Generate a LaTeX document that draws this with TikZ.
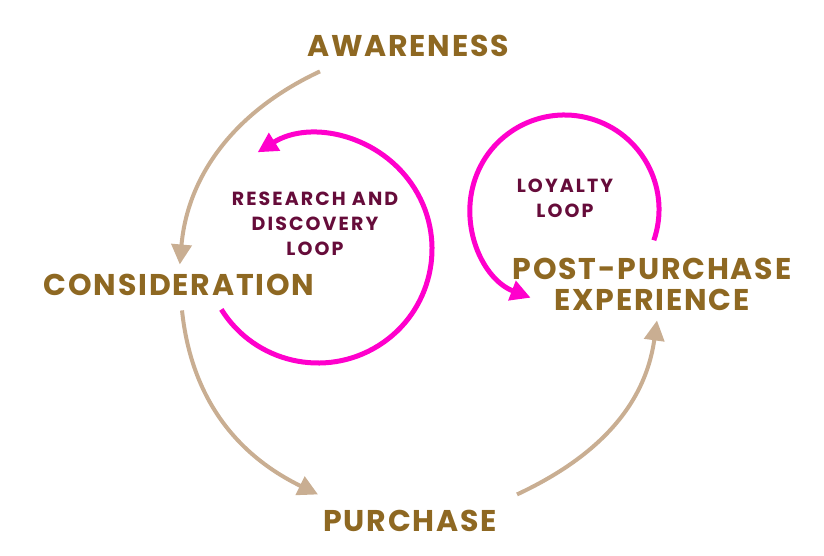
\documentclass[tikz,border=0pt]{standalone}
\usepackage{fontspec}
\setmainfont{Poppins}
\usetikzlibrary{arrows.meta}

\definecolor{stagebrown}{RGB}{142,104,34}
\definecolor{arrowtan}{RGB}{201,174,146}
\definecolor{loopink}{RGB}{255,0,204}
\definecolor{loopplum}{RGB}{102,12,58}

\begin{document}
\begin{tikzpicture}[x=1pt, y=1pt,
    stage/.style={font=\fontsize{30}{31}\selectfont\bfseries\addfontfeatures{LetterSpace=6}, text=stagebrown, inner sep=0pt, align=center},
    looplabel/.style={font=\fontsize{19}{25}\selectfont\bfseries\addfontfeatures{LetterSpace=11}, text=loopplum, inner sep=0pt, align=center},
    flow/.style={draw=arrowtan, line width=4pt, -{Triangle[length=20pt,width=20pt]}},
    loopline/.style={draw=loopink, line width=5pt, -{Triangle[length=20pt,width=20pt]}}]

    % Page frame
    \useasboundingbox (0,0) rectangle (824,-556);

    % Stages of the journey
    \node[stage, anchor=base] (aware)  at (408,-57)  {AWARENESS};
    \node[stage, anchor=base] (consid) at (179,-295) {CONSIDERATION};
    \node[stage, anchor=base] (purch)  at (410,-531) {PURCHASE};
    \node[stage] (post) at (652,-284) {POST-PURCHASE\\EXPERIENCE};

    % Loop labels
    \node[looplabel] (research) at (315,-224) {RESEARCH AND\\DISCOVERY\\LOOP};
    \node[looplabel] (loyalty)  at (565,-198) {LOYALTY\\LOOP};

    % Loop centres
    \coordinate (rcenter) at (318,-249);
    \coordinate (lcenter) at (564.5,-209.5);

    % Main journey (tan)
    \draw[flow, shorten >=9pt] ([shift={(13,-14)}]aware.south west) to[out=205, in=85] (consid.north);
    \draw[flow] ([shift={(3,-15)}]consid.south) to[out=276, in=154] ([shift={(-5,15)}]purch.north west);
    \draw[flow] ([shift={(20,15)}]purch.north east) to[out=25, in=262] ([shift={(5,-10)}]post.south);

    % Loops (pink)
    \draw[loopline] (rcenter) ++(212:114) arc[start angle=212, end angle=482, radius=114];
    \draw[loopline] (lcenter) ++(-19:94.5) arc[start angle=-19, end angle=249, radius=94.5];

\end{tikzpicture}
\end{document}
